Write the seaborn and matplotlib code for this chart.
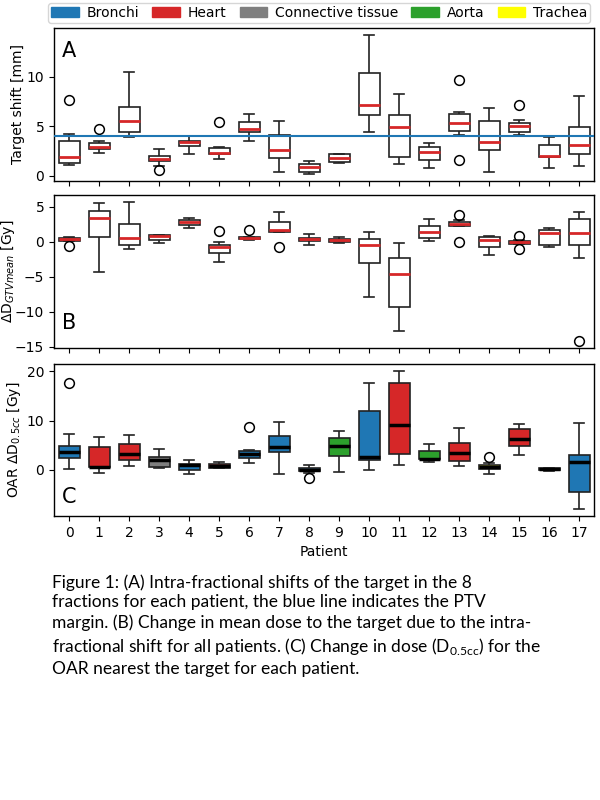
import numpy as np
import pandas as pd
import matplotlib
matplotlib.use("Agg")
import matplotlib.pyplot as plt
from matplotlib.patches import Patch
import seaborn as sns

patients = list(range(18))

# Panel A: intra-fractional target shift [mm]
shift = [
    [1.1, 1.2, 1.3, 1.6, 1.85, 2.6, 3.45, 4.2, 7.7],
    [2.3, 2.5, 2.65, 2.75, 2.85, 3.0, 3.25, 3.55, 4.75],
    [3.95, 4.2, 4.45, 5.0, 5.5, 6.2, 6.95, 8.5, 10.5],
    [0.6, 1.0, 1.45, 1.6, 1.7, 1.85, 1.95, 2.3, 2.65],
    [2.2, 2.6, 2.95, 3.2, 3.35, 3.45, 3.5, 3.75, 4.0],
    [1.7, 2.0, 2.15, 2.2, 2.25, 2.6, 2.8, 2.85, 5.4],
    [3.45, 4.1, 4.4, 4.55, 4.7, 5.0, 5.4, 5.8, 6.25],
    [0.35, 1.2, 1.8, 2.2, 2.6, 3.3, 4.1, 4.8, 5.5],
    [0.15, 0.3, 0.4, 0.7, 0.9, 1.0, 1.15, 1.3, 1.5],
    [1.25, 1.3, 1.35, 1.6, 1.75, 1.95, 2.15, 2.18, 2.2],
    [4.4, 5.5, 6.1, 6.6, 7.1, 8.5, 10.35, 12.0, 14.25],
    [1.2, 1.5, 1.85, 3.5, 4.95, 5.6, 6.1, 7.2, 8.25],
    [0.75, 1.2, 1.55, 2.0, 2.4, 2.7, 2.9, 3.1, 3.3],
    [1.6, 4.15, 4.55, 4.9, 5.3, 6.0, 6.25, 6.4, 9.65],
    [0.35, 1.5, 2.55, 3.0, 3.4, 4.5, 5.55, 6.2, 6.8],
    [4.1, 4.3, 4.45, 4.8, 5.05, 5.2, 5.3, 5.6, 7.1],
    [0.8, 1.5, 1.85, 1.95, 2.0, 2.6, 3.1, 3.6, 3.9],
    [1.0, 1.7, 2.15, 2.6, 3.05, 4.0, 4.9, 6.5, 8.1],
]

# Panel B: change in mean GTV dose [Gy]
d_gtv = [
    [-0.6, 0.1, 0.15, 0.3, 0.4, 0.45, 0.5, 0.65, 0.75],
    [-4.35, -1.0, 0.75, 2.5, 3.35, 3.9, 4.4, 5.0, 5.6],
    [-1.1, -0.7, -0.4, 0.1, 0.5, 1.5, 2.55, 4.0, 5.7],
    [-0.2, 0.1, 0.3, 0.6, 0.8, 0.9, 0.95, 0.98, 1.0],
    [2.0, 2.2, 2.4, 2.7, 2.85, 3.0, 3.1, 3.3, 3.45],
    [-2.85, -2.2, -1.65, -1.0, -0.7, -0.55, -0.45, 0.0, 1.5],
    [0.25, 0.35, 0.4, 0.5, 0.55, 0.65, 0.7, 0.75, 1.7],
    [-0.7, 1.4, 1.45, 1.6, 1.75, 2.4, 2.8, 3.5, 4.3],
    [-0.5, -0.1, 0.12, 0.3, 0.4, 0.5, 0.58, 0.8, 1.1],
    [-0.2, -0.1, 0.0, 0.1, 0.2, 0.3, 0.4, 0.5, 0.65],
    [-7.95, -5.0, -3.1, -1.5, -0.5, 0.1, 0.4, 0.9, 1.4],
    [-12.7, -11.0, -9.3, -6.5, -4.65, -3.2, -2.3, -1.0, -0.15],
    [0.05, 0.3, 0.5, 1.0, 1.4, 1.9, 2.25, 2.7, 3.2],
    [0.0, 2.2, 2.25, 2.45, 2.6, 2.7, 2.8, 3.1, 3.9],
    [-1.9, -1.2, -0.7, -0.2, 0.25, 0.5, 0.7, 0.8, 0.85],
    [-1.05, -0.35, -0.25, -0.15, -0.1, 0.05, 0.15, 0.2, 0.8],
    [-0.8, -0.65, -0.5, 0.5, 1.2, 1.5, 1.7, 1.85, 1.95],
    [-14.2, -2.35, -0.4, 0.5, 1.2, 2.5, 3.3, 3.9, 4.3],
]

# Panel C: change in OAR D0.5cc [Gy]
d_oar = [
    [0.15, 1.5, 2.35, 3.0, 3.55, 4.2, 4.9, 7.25, 17.6],
    [-0.55, 0.3, 0.5, 0.52, 0.55, 2.5, 4.6, 5.5, 6.6],
    [0.8, 1.4, 1.95, 2.8, 3.3, 4.3, 5.2, 6.2, 7.1],
    [0.45, 0.48, 0.5, 1.2, 1.95, 2.3, 2.7, 3.5, 4.25],
    [-0.9, -0.4, 0.0, 0.6, 1.0, 1.15, 1.3, 1.6, 1.95],
    [0.3, 0.32, 0.35, 0.6, 0.8, 1.0, 1.2, 1.45, 1.7],
    [1.35, 2.0, 2.45, 2.9, 3.2, 3.6, 3.8, 4.0, 8.65],
    [-0.75, 2.0, 3.65, 4.2, 4.65, 5.8, 6.95, 8.5, 9.75],
    [-1.6, -0.6, -0.3, -0.1, 0.05, 0.2, 0.3, 0.6, 1.0],
    [-0.4, 1.5, 2.85, 4.0, 4.8, 5.6, 6.4, 7.2, 8.0],
    [0.0, 1.0, 2.0, 2.3, 2.6, 7.0, 12.0, 15.0, 17.6],
    [0.95, 2.0, 3.2, 6.0, 9.05, 13.0, 17.6, 19.0, 20.1],
    [1.7, 2.0, 2.15, 2.2, 2.3, 3.2, 3.9, 4.5, 5.2],
    [0.75, 1.3, 1.9, 2.8, 3.5, 4.5, 5.4, 7.0, 8.5],
    [-0.8, -0.2, 0.15, 0.3, 0.5, 0.8, 0.95, 1.35, 2.7],
    [3.05, 4.0, 4.8, 5.8, 6.35, 7.5, 8.3, 8.8, 9.25],
    [-0.2, -0.1, -0.05, 0.05, 0.15, 0.25, 0.3, 0.4, 0.45],
    [-7.95, -6.0, -4.5, -1.0, 1.6, 2.4, 3.05, 6.0, 9.5],
]

# nearest OAR per patient
oar = ["Bronchi", "Heart", "Heart", "Connective tissue", "Bronchi", "Heart",
       "Bronchi", "Bronchi", "Bronchi", "Aorta", "Bronchi", "Heart", "Aorta",
       "Heart", "Trachea", "Heart", "Bronchi", "Bronchi"]

oar_names = ["Bronchi", "Heart", "Connective tissue", "Aorta", "Trachea"]
oar_colors = ["#1f77b4", "#d62728", "#7f7f7f", "#2ca02c", "#ffff00"]
ptv_margin = 4.0

caption = ("Figure 1: (A) Intra-fractional shifts of the target in the 8\n"
           "fractions for each patient, the blue line indicates the PTV\n"
           "margin. (B) Change in mean dose to the target due to the intra-\n"
           "fractional shift for all patients. (C) Change in dose (D$_{\\mathregular{0.5cc}}$) for the\n"
           "OAR nearest the target for each patient.")

rows = []
for p in patients:
    for a, b, c in zip(shift[p], d_gtv[p], d_oar[p]):
        rows.append((p, a, b, c))
df = pd.DataFrame(rows, columns=["patient", "shift", "dgtv", "doar"])

cmap = dict(zip(oar_names, oar_colors))
pal = {p: cmap[oar[p]] for p in patients}

fig = plt.figure(figsize=(6, 8), dpi=100)
L, W = 54 / 600, 540 / 600
axA = fig.add_axes([L, 1 - 181 / 800, W, 153 / 800])
axB = fig.add_axes([L, 1 - 348 / 800, W, 153 / 800])
axC = fig.add_axes([L, 1 - 516 / 800, W, 152 / 800])

flier = dict(marker="o", markerfacecolor="none", markeredgecolor="black",
             markersize=7, markeredgewidth=1.1)

for ax, col in [(axA, "shift"), (axB, "dgtv")]:
    sns.boxplot(data=df, x="patient", y=col, ax=ax, color="white",
                linecolor="#222222", width=0.7, linewidth=1.2,
                medianprops=dict(color="#d62728", linewidth=2),
                flierprops=flier)

sns.boxplot(data=df, x="patient", y="doar", hue="patient", palette=pal,
            legend=False, ax=axC, linecolor="#222222", width=0.7,
            linewidth=1.2, saturation=1,
            medianprops=dict(color="black", linewidth=2.5),
            flierprops=flier)

axA.axhline(ptv_margin, color="#1f77b4", linewidth=1.5, zorder=5)

axA.set_yticks([0, 5, 10])
axB.set_yticks([-15, -10, -5, 0, 5])
axC.set_yticks([0, 10, 20])

axA.set_ylabel("Target shift [mm]", fontsize=10)
axB.set_ylabel(r"$\Delta$D$_{GTVmean}$ [Gy]", fontsize=10)
axC.set_ylabel(r"OAR $\Delta$D$_{0.5cc}$ [Gy]", fontsize=10)
axA.yaxis.set_label_coords(-0.054, 0.5)
axB.yaxis.set_label_coords(-0.069, 0.5)
axC.yaxis.set_label_coords(-0.058, 0.5)
for ax in (axA, axB):
    ax.set_xlabel("")
    ax.tick_params(labelbottom=False)
axC.set_xlabel("Patient", fontsize=10)

for ax, letter, y in [(axA, "A", 0.81), (axB, "B", 0.124), (axC, "C", 0.085)]:
    ax.text(0.015, y, letter, transform=ax.transAxes, fontsize=15,
            va="baseline", ha="left")
    for s in ax.spines.values():
        s.set_linewidth(1.0)

handles = [Patch(facecolor=c, edgecolor=c) for c in oar_colors]
fig.legend(handles, oar_names, loc="upper center", ncol=5,
           bbox_to_anchor=(0.532, 0.998), fontsize=10, handlelength=2.0,
           handleheight=0.7, columnspacing=0.95, handletextpad=0.55,
           borderpad=0.2, borderaxespad=0.1, frameon=True,
           edgecolor="#cccccc", fancybox=True)

fig.text(52 / 600, 1 - 574 / 800, caption, fontsize=12.5, family="Lato",
         va="top", ha="left", linespacing=1.3)

fig.savefig("out.png", dpi=100)
